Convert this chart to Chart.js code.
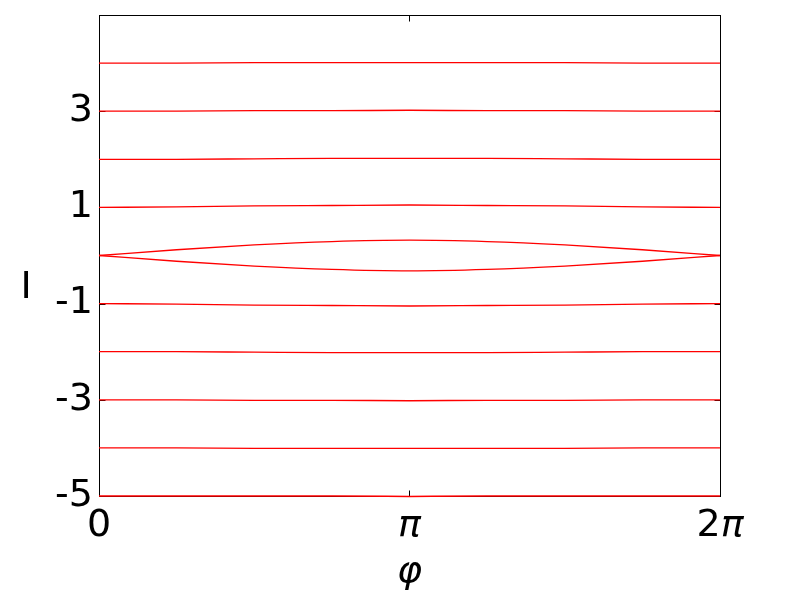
<!DOCTYPE html>
<html>
<head>
<meta charset="utf-8">
<script src="https://cdn.jsdelivr.net/npm/chart.js@4/dist/chart.umd.min.js"></script>
<style>
  html, body { margin: 0; padding: 0; background: #fff; }
  #c { display: block; }
</style>
</head>
<body>
<canvas id="c" width="800" height="597"></canvas>
<script>
// ---- data ----
const phi = [0, 0.785, 1.571, 2.356, 3.142, 3.927, 4.712, 5.498, 6.283];

const curvePlus4  = [4.00, 4.00, 4.01, 4.01, 4.01, 4.01, 4.01, 4.00, 4.00];
const curvePlus3  = [3.00, 3.00, 3.01, 3.01, 3.02, 3.01, 3.01, 3.00, 3.00];
const curvePlus2  = [2.00, 2.00, 2.01, 2.02, 2.02, 2.02, 2.01, 2.00, 2.00];
const curvePlus1  = [1.00, 1.01, 1.03, 1.04, 1.05, 1.04, 1.03, 1.01, 1.00];
const sepUpper    = [0.00, 0.12, 0.22, 0.29, 0.32, 0.29, 0.22, 0.12, 0.00];
const sepLower    = [0.00, -0.12, -0.22, -0.29, -0.32, -0.29, -0.22, -0.12, 0.00];
const curveMinus1 = [-1.00, -1.01, -1.03, -1.04, -1.05, -1.04, -1.03, -1.01, -1.00];
const curveMinus2 = [-2.00, -2.00, -2.01, -2.02, -2.02, -2.02, -2.01, -2.00, -2.00];
const curveMinus3 = [-3.00, -3.00, -3.01, -3.01, -3.02, -3.01, -3.01, -3.00, -3.00];
const curveMinus4 = [-4.00, -4.00, -4.01, -4.01, -4.01, -4.01, -4.01, -4.00, -4.00];
const curveMinus5 = [-5.00, -5.00, -5.00, -5.00, -5.01, -5.00, -5.00, -5.00, -5.00];

const xTickValues = [0, 3.14159265, 6.28318531];
const xTickLabels = [['0', ''], ['', 'π'], ['2', 'π']];
const yTickValues = [-5, -3, -1, 1, 3];
const xAxisTitle = 'φ';
const yAxisTitle = 'I';

const allCurves = [curvePlus4, curvePlus3, curvePlus2, curvePlus1, sepUpper, sepLower,
                   curveMinus1, curveMinus2, curveMinus3, curveMinus4, curveMinus5];

const FONT = '"DejaVu Sans", sans-serif';
const TICK_LEN = 6;

const datasets = allCurves.map(vals => ({
  data: phi.map((p, i) => ({ x: p, y: vals[i] })),
  borderColor: '#ff0000',
  borderWidth: 1.3,
  pointRadius: 0,
  fill: false,
  cubicInterpolationMode: 'monotone',
  clip: 4
}));

const framePlugin = {
  id: 'frame',
  beforeDatasetsDraw(chart) {
    const { ctx, chartArea: a } = chart;
    const xs = chart.scales.x, ys = chart.scales.y;
    const L = Math.round(a.left) + 0.5, R = Math.round(a.right) + 0.5;
    const T = Math.round(a.top) + 0.5, B = Math.round(a.bottom) + 0.5;
    ctx.save();
    ctx.strokeStyle = '#000';
    ctx.lineWidth = 1;
    ctx.strokeRect(L, T, R - L, B - T);
    ctx.beginPath();
    // inward ticks on bottom and top
    xTickValues.forEach(v => {
      const px = Math.round(xs.getPixelForValue(v)) + 0.5;
      ctx.moveTo(px, B); ctx.lineTo(px, B - TICK_LEN);
      ctx.moveTo(px, T); ctx.lineTo(px, T + TICK_LEN);
    });
    // inward ticks on left and right
    yTickValues.forEach(v => {
      const py = Math.round(ys.getPixelForValue(v)) + 0.5;
      ctx.moveTo(L, py); ctx.lineTo(L + TICK_LEN, py);
      ctx.moveTo(R, py); ctx.lineTo(R - TICK_LEN, py);
    });
    ctx.stroke();
    ctx.restore();
  },
  afterDraw(chart) {
    const { ctx } = chart;
    const xs = chart.scales.x;
    ctx.save();
    ctx.fillStyle = '#000';
    ctx.textBaseline = 'alphabetic';
    const upright = '38px ' + FONT;
    const italic = 'oblique 38px ' + FONT;
    // x tick labels (upright digits, italic pi)
    xTickValues.forEach((v, i) => {
      const [d, g] = xTickLabels[i];
      ctx.font = upright; const wd = ctx.measureText(d).width;
      ctx.font = italic;  const wg = ctx.measureText(g).width;
      const cx = xs.getPixelForValue(v);
      let x0 = cx - (wd + wg) / 2;
      ctx.textAlign = 'left';
      ctx.font = upright; ctx.fillText(d, x0, 536);
      ctx.font = italic;  ctx.fillText(g, x0 + wd, 536);
    });
    // axis titles
    ctx.textAlign = 'center';
    ctx.font = italic;
    ctx.fillText(xAxisTitle, (chart.chartArea.left + chart.chartArea.right) / 2, 582);
    ctx.font = upright;
    ctx.fillText(yAxisTitle, 26, 298);
    ctx.restore();
  }
};

new Chart(document.getElementById('c'), {
  type: 'line',
  data: { datasets },
  options: {
    responsive: false,
    animation: false,
    devicePixelRatio: 1,
    layout: { padding: { left: 0, right: 80, top: 15, bottom: 0 } },
    plugins: { legend: { display: false }, tooltip: { enabled: false } },
    scales: {
      x: {
        type: 'linear', min: 0, max: 6.28318531,
        grid: { display: false, drawTicks: false },
        border: { display: false },
        ticks: { display: false },
        afterBuildTicks: s => { s.ticks = xTickValues.map(v => ({ value: v })); },
        afterFit: s => { s.height = 101; s.paddingLeft = 0; s.paddingRight = 0; }
      },
      y: {
        type: 'linear', min: -5, max: 5,
        grid: { display: false, drawTicks: false },
        border: { display: false },
        ticks: {
          color: '#000', padding: 6,
          font: { family: FONT, size: 38 },
          callback: v => String(v)
        },
        afterBuildTicks: s => { s.ticks = yTickValues.map(v => ({ value: v })); },
        afterFit: s => { s.width = 99; s.paddingTop = 0; s.paddingBottom = 0; }
      }
    }
  },
  plugins: [framePlugin]
});
</script>
</body>
</html>
